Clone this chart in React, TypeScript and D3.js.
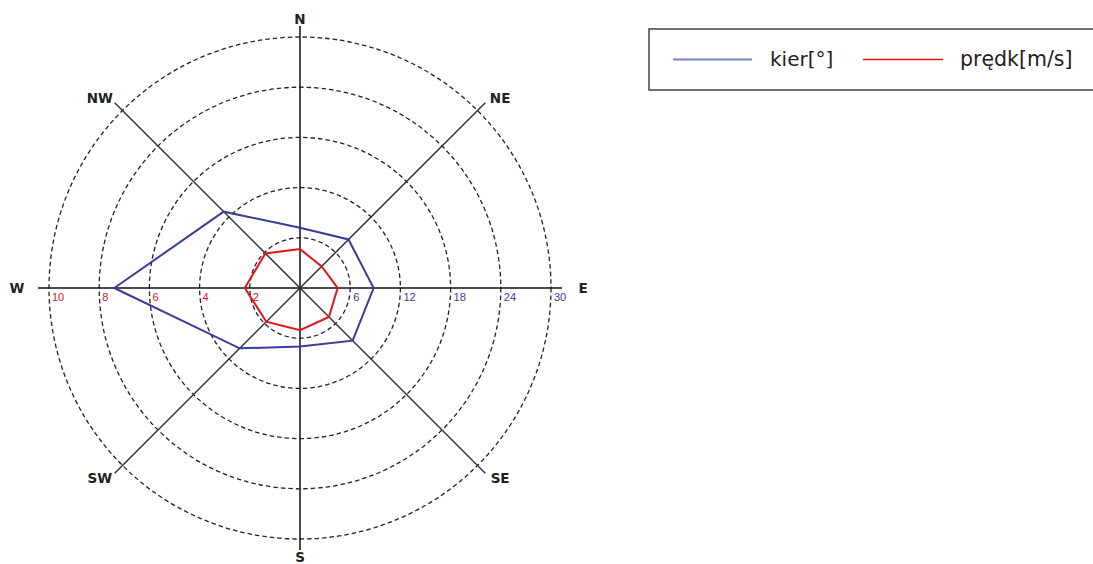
import React from "react";
import * as d3 from "d3";

const directions = ["N", "NE", "E", "SE", "S", "SW", "W", "NW"];
const kier = [7.2, 8.2, 8.8, 8.9, 7.0, 10.2, 22.2, 12.9];
const predk = [1.55, 1.22, 1.5, 1.63, 1.68, 1.9, 2.2, 1.95];
const kierTicks = [6, 12, 18, 24, 30];
const predkTicks = [2, 4, 6, 8, 10];
const ringCount = 5;

const W = 1093;
const H = 564;
const cx = 300;
const cy = 288;
const R = 251;
const axisLen = 262;

const BLUE = "#3a3c9c";
const RED = "#e5141b";

export default function App() {
  const rKier = d3.scaleLinear().domain([0, 30]).range([0, R]);
  const rPredk = d3.scaleLinear().domain([0, 10]).range([0, R]);
  const angle = d3
    .scalePoint<string>()
    .domain(directions)
    .range([0, 2 * Math.PI - (2 * Math.PI) / directions.length]);

  const line = (scale: d3.ScaleLinear<number, number>) =>
    d3
      .lineRadial<number>()
      .angle((_, i) => angle(directions[i]) as number)
      .radius((d) => scale(d))
      .curve(d3.curveLinearClosed);

  const rings = d3.range(1, ringCount + 1).map((i) => (R * i) / ringCount);

  const pos = (a: number, r: number) => [Math.sin(a) * r, -Math.cos(a) * r];

  return (
    <svg
      width={W}
      height={H}
      style={{ position: "absolute", left: 0, top: 0, background: "#fff" }}
      fontFamily="'DejaVu Sans', sans-serif"
    >
      <g transform={`translate(${cx},${cy})`}>
        {rings.map((r, i) => (
          <circle
            key={i}
            r={r}
            fill="none"
            stroke="#222"
            strokeWidth={1.3}
            strokeDasharray="4.5,3"
          />
        ))}
        {directions.map((d, i) => {
          const a = angle(d) as number;
          const [x, y] = pos(a, axisLen);
          return (
            <line
              key={d}
              x1={0}
              y1={0}
              x2={x}
              y2={y}
              stroke={i % 2 === 0 ? "#111" : "#333"}
              strokeWidth={1.5}
            />
          );
        })}
        {directions.map((d) => {
          const a = angle(d) as number;
          const x = Math.sin(a) * 283;
          const y = -Math.cos(a) * 269;
          return (
            <text
              key={d}
              x={x}
              y={y}
              textAnchor="middle"
              dominantBaseline="central"
              fontWeight="bold"
              fontSize={13.5}
              fill="#222"
            >
              {d}
            </text>
          );
        })}
        {kierTicks.map((t) => (
          <text
            key={"k" + t}
            x={rKier(t) + 3}
            y={13}
            fontSize={11}
            fontFamily="'Liberation Sans', Arial, sans-serif"
            fill={BLUE}
          >
            {t}
          </text>
        ))}
        {predkTicks.map((t) => (
          <text
            key={"p" + t}
            x={-rPredk(t) + 3}
            y={13}
            fontSize={11}
            fontFamily="'Liberation Sans', Arial, sans-serif"
            fill={RED}
          >
            {t}
          </text>
        ))}
        <path d={line(rKier)(kier) || ""} fill="none" stroke={BLUE} strokeWidth={2} />
        <path d={line(rPredk)(predk) || ""} fill="none" stroke={RED} strokeWidth={2} />
      </g>
      <g>
        <rect x={649} y={29} width={460} height={61} fill="#fff" stroke="#444" strokeWidth={1.5} />
        <line x1={673} x2={752} y1={59.5} y2={59.5} stroke="#7f82c2" strokeWidth={2} />
        <text x={770} y={66} fontSize={20} fill="#222">
          kier[°]
        </text>
        <line x1={863} x2={943} y1={59.5} y2={59.5} stroke={RED} strokeWidth={1.5} />
        <text x={960} y={66} fontSize={20.5} fill="#222">
          prędk[m/s]
        </text>
      </g>
    </svg>
  );
}
